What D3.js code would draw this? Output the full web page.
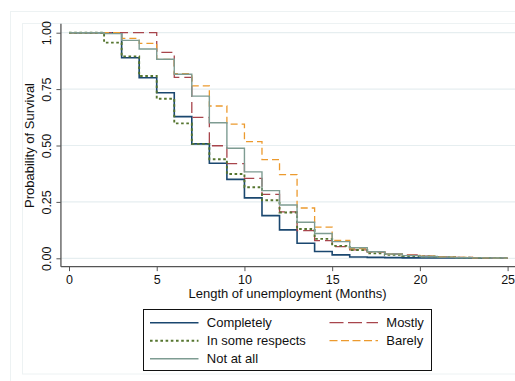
<!DOCTYPE html>
<html>
<head>
<meta charset="utf-8">
<script src="https://cdn.jsdelivr.net/npm/d3@7"></script>
<style>
  html, body { margin: 0; padding: 0; background: #fff; }
  svg { display: block; font-family: "Liberation Sans", Arial, Helvetica, sans-serif; }
</style>
</head>
<body>
<svg id="chart" width="515" height="381"></svg>
<script>
// ---- data (survival probability at start of each month 0..25) ----
const months = d3.range(0, 26);
const completely   = [1,1,1,0.889,0.800,0.734,0.628,0.507,0.421,0.350,0.268,0.189,0.126,0.067,0.030,0.015,0.006,0.004,0.003,0.002,0.001,0.001,0.001,0,0,0];
const mostly       = [1,1,1,1,1,0.913,0.802,0.625,0.499,0.420,0.354,0.283,0.206,0.123,0.078,0.052,0.037,0.027,0.019,0.015,0.010,0.006,0.004,0.002,0.001,0.001];
const someRespects = [1,1,0.956,0.895,0.808,0.707,0.598,0.507,0.439,0.374,0.315,0.257,0.203,0.130,0.086,0.055,0.037,0.022,0.015,0.010,0.008,0.005,0.003,0.002,0.001,0.001];
const barely       = [1,1,1,0.975,0.953,0.882,0.818,0.764,0.675,0.595,0.517,0.437,0.371,0.223,0.138,0.079,0.043,0.030,0.019,0.013,0.009,0.006,0.004,0.002,0.001,0.001];
const notAtAll     = [1,1,0.996,0.966,0.928,0.882,0.816,0.719,0.601,0.488,0.383,0.300,0.236,0.160,0.110,0.074,0.047,0.029,0.019,0.012,0.008,0.005,0.003,0.002,0.001,0.001];

const seriesNames  = ["Completely", "Mostly", "In some respects", "Barely", "Not at all"];
const seriesValues = [completely, mostly, someRespects, barely, notAtAll];
const seriesColors = ["#1a476f", "#a8454c", "#55752f", "#ec9a2e", "#7e9c92"];
const seriesDash   = [null, "11,5", "2.6,2.6", "7,4", null];
const seriesWidth  = [1.6, 1.3, 1.9, 1.3, 1.4];

const xTicks = [0, 5, 10, 15, 20, 25];
const yTicks = [0, 0.25, 0.5, 0.75, 1];

const xTitle = "Length of unemployment (Months)";
const yTitle = "Probability of Survival";

// ---- layout ----
const svg = d3.select("#chart");
const x = d3.scaleLinear().domain([0, 25]).range([69, 507.6]);
const y = d3.scaleLinear().domain([0, 1]).range([258.3, 32.7]);

// faint graph region frames
svg.append("rect").attr("x", 10.5).attr("y", 11.5).attr("width", 520).attr("height", 380)
  .attr("fill", "none").attr("stroke", "#edf2f3").attr("stroke-width", 1);
svg.append("rect").attr("x", 22.5).attr("y", 23.5).attr("width", 520).attr("height", 350.5)
  .attr("fill", "none").attr("stroke", "#edf2f3").attr("stroke-width", 1);

// gridlines
svg.append("g").selectAll("line").data(yTicks).join("line")
  .attr("x1", x(-0.46)).attr("x2", 515)
  .attr("y1", d => y(d)).attr("y2", d => y(d))
  .attr("stroke", "#e6eef0").attr("stroke-width", 1.2);

// axes
const xAxis = svg.append("g").attr("transform", `translate(0,${y(-0.037)})`)
  .call(d3.axisBottom(x).tickValues(xTicks).tickFormat(d3.format("d")).tickSizeOuter(0).tickSize(4.5).tickPadding(4));
xAxis.select(".domain").remove();
xAxis.append("line").attr("x1", x(-0.46)).attr("x2", 515).attr("y1", 0).attr("y2", 0)
  .attr("stroke", "#555").attr("stroke-width", 1.3);
xAxis.selectAll(".tick line").attr("stroke", "#555");
xAxis.selectAll("text").attr("font-size", 12.5).attr("fill", "#111")
  .attr("font-family", "Liberation Sans, Arial, sans-serif");

const yAxis = svg.append("g").attr("transform", `translate(${x(-0.46)},0)`)
  .call(d3.axisLeft(y).tickValues(yTicks).tickFormat(d3.format(".2f")).tickSizeOuter(0).tickSize(4.5).tickPadding(0));
yAxis.select(".domain").remove();
yAxis.append("line").attr("x1", 0).attr("x2", 0).attr("y1", y(1.04)).attr("y2", y(-0.037))
  .attr("stroke", "#555").attr("stroke-width", 1.3);
yAxis.selectAll(".tick line").attr("stroke", "#555");
yAxis.selectAll(".tick text")
  .attr("x", null).attr("dy", null)
  .attr("transform", "translate(-10,0) rotate(-90)")
  .attr("text-anchor", "middle")
  .attr("font-size", 12.5).attr("fill", "#111")
  .attr("font-family", "Liberation Sans, Arial, sans-serif");

// axis titles
svg.append("text").attr("x", 287.5).attr("y", 298).attr("text-anchor", "middle")
  .attr("font-size", 13).attr("fill", "#111").text(xTitle);
svg.append("text").attr("transform", `translate(34,${(y(0)+y(1))/2}) rotate(-90)`)
  .attr("text-anchor", "middle").attr("font-size", 13).attr("fill", "#111").text(yTitle);

// step lines
const line = d3.line().curve(d3.curveStepAfter).x(d => x(d[0])).y(d => y(d[1]));
const plot = svg.append("g");
seriesValues.forEach((vals, i) => {
  plot.append("path")
    .datum(months.map((m, j) => [m, vals[j]]))
    .attr("d", line)
    .attr("fill", "none")
    .attr("stroke", seriesColors[i])
    .attr("stroke-width", seriesWidth[i])
    .attr("stroke-dasharray", seriesDash[i])
    .attr("stroke-linejoin", "miter")
    .attr("stroke-linecap", "butt");
});

// legend
const lg = svg.append("g");
lg.append("rect").attr("x", 143.5).attr("y", 309.5).attr("width", 288).attr("height", 61)
  .attr("fill", "#fff").attr("stroke", "#111").attr("stroke-width", 1);
const legendPos = [
  {col: 0, row: 0}, {col: 1, row: 0}, {col: 0, row: 1}, {col: 1, row: 1}, {col: 0, row: 2}
];
const colX = [150, 329.5];
const rowY = [322.7, 340.7, 358.7];
seriesNames.forEach((name, i) => {
  const p = legendPos[i];
  const lx = colX[p.col], ly = rowY[p.row];
  lg.append("line").attr("x1", lx).attr("x2", lx + 48.5).attr("y1", ly).attr("y2", ly)
    .attr("stroke", seriesColors[i]).attr("stroke-width", seriesWidth[i])
    .attr("stroke-dasharray", i === 1 ? "14,4.5" : i === 3 ? "8,3.5" : seriesDash[i]);
  lg.append("text").attr("x", lx + 56.8).attr("y", ly + 4.6)
    .attr("font-size", 13).attr("fill", "#111").text(name);
});
</script>
</body>
</html>
